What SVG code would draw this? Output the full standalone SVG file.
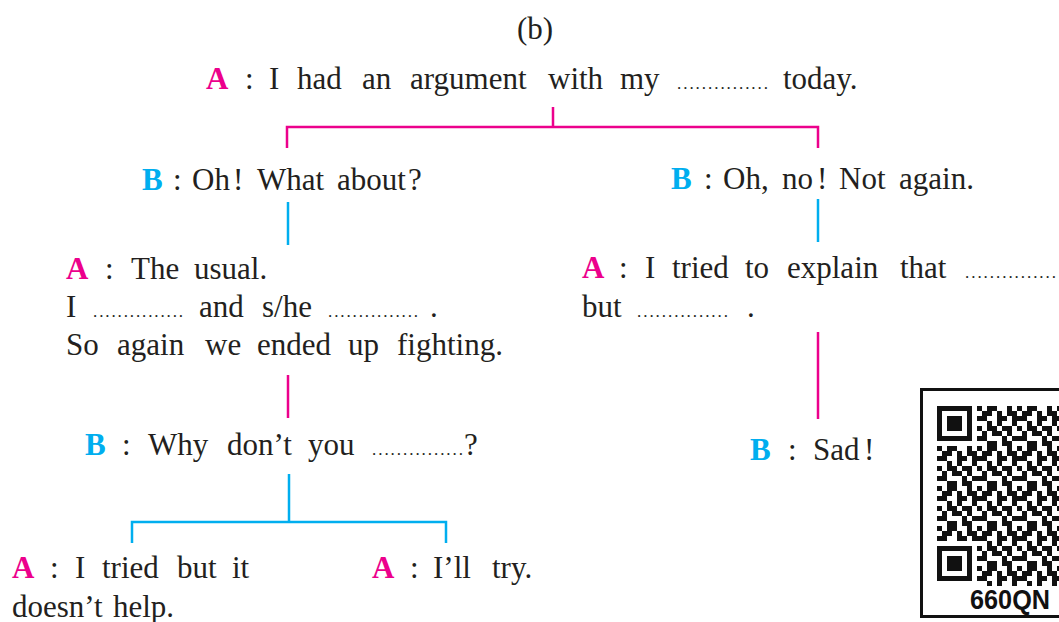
<svg xmlns="http://www.w3.org/2000/svg" width="1059" height="622" viewBox="0 0 1059 622" font-family="'Liberation Serif','Times New Roman','DejaVu Serif',serif">
<style>
text{font-family:"Liberation Serif","Times New Roman","DejaVu Serif",serif;font-size:31px;fill:#231f20}
.a{fill:#ec008c;font-weight:bold}
.b{fill:#00aeef;font-weight:bold}
text.d{font-size:17px}
.pk{stroke:#ec008c;stroke-width:2.5;fill:none}
.bl{stroke:#00aeef;stroke-width:2.5;fill:none}
text.qr{font-family:"Liberation Sans",Arial,sans-serif;font-weight:bold;font-size:28px;fill:#111}
</style>
<defs>
<pattern id="qrp" patternUnits="userSpaceOnUse" x="937" y="406" width="40" height="40">
<path fill="#111" d="M0 0h5v5h-5z M10 0h10v5h-10z M30 0h5v5h-5z M5 5h10v5h-10z M20 5h5v5h-5z M30 5h10v5h-10z M0 10h10v5h-10z M20 10h10v5h-10z M35 10h5v5h-5z M10 15h5v5h-5z M20 15h5v5h-5z M35 15h5v5h-5z M0 20h5v5h-5z M10 20h10v5h-10z M25 20h10v5h-10z M5 25h5v5h-5z M15 25h10v5h-10z M30 25h5v5h-5z M0 30h10v5h-10z M25 30h5v5h-5z M35 30h5v5h-5z M10 35h10v5h-10z M25 35h10v5h-10z"/>
</pattern>
</defs>
<rect width="1059" height="622" fill="#fff"/>

<g id="connectors">
<path class="pk" d="M553 107V127 M287 148V127H818V148"/>
<path class="bl" d="M288 202V245"/>
<path class="bl" d="M818 199V242"/>
<path class="pk" d="M288 375V418"/>
<path class="pk" d="M818 332V419"/>
<path class="bl" d="M289 474V522 M132 543V522H446V543"/>
</g>

<g id="title"><text x="535" y="39" text-anchor="middle">(b)</text></g>

<g id="n1">
<text y="89"><tspan class="a" x="206">A</tspan><tspan x="245">:</tspan><tspan x="269">I</tspan><tspan x="297">had</tspan><tspan x="362">an</tspan><tspan x="410">argument</tspan><tspan x="548">with</tspan><tspan x="620">my</tspan><tspan x="783">today.</tspan></text>
<text class="d" x="677" y="89" textLength="91" lengthAdjust="spacing">...............</text>
</g>

<g id="n2">
<text y="190"><tspan class="b" x="142">B</tspan><tspan x="173">:</tspan><tspan x="192">Oh</tspan><tspan x="233">!</tspan><tspan x="257">What</tspan><tspan x="337">about</tspan><tspan x="408">?</tspan></text>
</g>

<g id="n3">
<text y="189"><tspan class="b" x="671">B</tspan><tspan x="704">:</tspan><tspan x="723">Oh,</tspan><tspan x="782">no</tspan><tspan x="817">!</tspan><tspan x="839">Not</tspan><tspan x="899">again.</tspan></text>
</g>

<g id="n4">
<text y="279"><tspan class="a" x="66">A</tspan><tspan x="105">:</tspan><tspan x="131">The</tspan><tspan x="194">usual.</tspan></text>
<text y="317"><tspan x="66">I</tspan><tspan x="199">and</tspan><tspan x="262">s/he</tspan><tspan x="430">.</tspan></text>
<text class="d" x="93" y="317" textLength="90" lengthAdjust="spacing">...............</text>
<text class="d" x="328" y="317" textLength="90" lengthAdjust="spacing">...............</text>
<text y="355"><tspan x="66">So</tspan><tspan x="117">again</tspan><tspan x="205">we</tspan><tspan x="257">ended</tspan><tspan x="348">up</tspan><tspan x="397">fighting.</tspan></text>
</g>

<g id="n5">
<text y="278"><tspan class="a" x="582">A</tspan><tspan x="619">:</tspan><tspan x="645">I</tspan><tspan x="672">tried</tspan><tspan x="745">to</tspan><tspan x="787">explain</tspan><tspan x="900">that</tspan></text>
<text class="d" x="965" y="278" textLength="91" lengthAdjust="spacing">...............</text>
<text y="317"><tspan x="582">but</tspan><tspan x="747">.</tspan></text>
<text class="d" x="637" y="317" textLength="91" lengthAdjust="spacing">...............</text>
</g>

<g id="n6">
<text y="455"><tspan class="b" x="85">B</tspan><tspan x="122">:</tspan><tspan x="148">Why</tspan><tspan x="227">don’t</tspan><tspan x="308">you</tspan><tspan x="464">?</tspan></text>
<text class="d" x="372" y="455" textLength="91" lengthAdjust="spacing">...............</text>
</g>

<g id="n7">
<text y="460"><tspan class="b" x="750">B</tspan><tspan x="788">:</tspan><tspan x="813">Sad</tspan><tspan x="864">!</tspan></text>
</g>

<g id="n8">
<text y="578"><tspan class="a" x="12">A</tspan><tspan x="50">:</tspan><tspan x="75">I</tspan><tspan x="102">tried</tspan><tspan x="177">but</tspan><tspan x="232">it</tspan></text>
<text y="617"><tspan x="12">doesn’t</tspan><tspan x="113">help.</tspan></text>
</g>

<g id="n9">
<text y="578"><tspan class="a" x="372">A</tspan><tspan x="410">:</tspan><tspan x="433">I’ll</tspan><tspan x="492">try.</tspan></text>
</g>

<g id="qrcode">
<rect x="921.5" y="389.5" width="160" height="227" fill="#fff" stroke="#111" stroke-width="3"/>
<rect x="937" y="406" width="122" height="180" fill="url(#qrp)"/>
<rect x="933" y="402" width="44" height="44" fill="#fff"/>
<rect x="933" y="541" width="44" height="46" fill="#fff"/>
<path fill="#111" fill-rule="evenodd" d="M937 406h35v35h-35z M942 411v25h25v-25z M947 416h15v15h-15z"/>
<path fill="#111" fill-rule="evenodd" d="M937 546h35v35h-35z M942 551v25h25v-25z M947 556h15v15h-15z"/>
<text class="qr" x="970" y="609" textLength="80" lengthAdjust="spacingAndGlyphs">660QN</text>
</g>
</svg>
